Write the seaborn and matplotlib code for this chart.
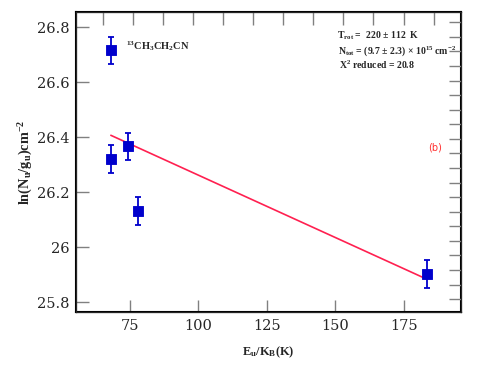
import numpy as np
import pandas as pd
import seaborn as sns
import matplotlib.pyplot as plt

# rotational diagram points
eu_kb = [68.1, 68.1, 74.3, 77.9, 183.4]
ln_nu = [26.716, 26.32, 26.367, 26.131, 25.902]
err = [0.05, 0.05, 0.05, 0.05, 0.05]

# fitted line end points
fit_x = [68.0, 183.4]
fit_y = [26.407, 25.884]

y_ticks = [25.8, 26.0, 26.2, 26.4, 26.6, 26.8]
y_labels = ['25.8', '26', '26.2', '26.4', '26.6', '26.8']
x_ticks = [75, 100, 125, 150, 175]
top_ticks = [65, 76, 87, 98, 109, 120, 131, 142, 153, 164, 175, 186]
right_ticks = [25.811, 25.864, 25.917, 25.97, 26.023, 26.076, 26.129, 26.182,
               26.235, 26.288, 26.341, 26.394, 26.447, 26.5, 26.553, 26.606,
               26.659, 26.712, 26.765, 26.818]

sns.set_style("white")
plt.rcParams['mathtext.fontset'] = 'custom'
plt.rcParams['mathtext.rm'] = 'Liberation Serif:bold'
plt.rcParams['mathtext.it'] = 'Liberation Serif:bold'
plt.rcParams['mathtext.bf'] = 'Liberation Serif:bold'

df = pd.DataFrame({'x': eu_kb, 'y': ln_nu})
fit = pd.DataFrame({'x': fit_x, 'y': fit_y})

fig = plt.figure(figsize=(4.91, 3.68), dpi=100)
ax = fig.add_axes([0.155, 0.152, 0.784, 0.815])

sns.lineplot(data=fit, x='x', y='y', color='#ff2050', linewidth=1.2, ax=ax)
ax.errorbar(eu_kb, ln_nu, yerr=err, fmt='none', ecolor='#0000cc',
            elinewidth=1.3, capsize=2, capthick=1.3)
sns.scatterplot(data=df, x='x', y='y', marker='s', s=62, color='#0000cc',
                edgecolor='#0000cc', ax=ax, zorder=5)

ax.set_xlim(55.3, 196)
ax.set_ylim(25.764, 26.855)
ax.set_xticks(x_ticks)
ax.set_yticks(y_ticks)
ax.set_yticklabels(y_labels)
ax.tick_params(direction='in', length=9, width=1, color='gray',
               labelsize=10.5, pad=5)
for lab in ax.get_xticklabels() + ax.get_yticklabels():
    lab.set_family('DejaVu Serif')
for s in ax.spines.values():
    s.set_linewidth(1.5)
    s.set_color('black')

ax2 = ax.twiny()
ax2.set_xlim(ax.get_xlim())
ax2.set_xticks(top_ticks)
ax2.set_xticklabels([])
ax2.tick_params(direction='in', length=9, width=1, color='gray')
ax3 = ax.twinx()
ax3.set_ylim(ax.get_ylim())
ax3.set_yticks(right_ticks)
ax3.set_yticklabels([])
ax3.tick_params(direction='in', length=9, width=1, color='gray')

bold = dict(family='Liberation Serif', fontweight='bold')
ax.set_xlabel(r'E$_\mathrm{u}$/K$_\mathrm{B}$(K)', fontsize=9, labelpad=8, **bold)
ax.set_ylabel(r'ln(N$_\mathrm{u}$/g$_\mathrm{u}$)cm$^\mathrm{-2}$', fontsize=10.3,
              labelpad=1, **bold)

ax.text(73.5, 26.733, r'$^\mathrm{13}$CH$_\mathrm{3}$CH$_\mathrm{2}$CN',
        fontsize=7.5, va='center', **bold)
ax.text(150.5, 26.77, r'T$_\mathrm{rot}$ =  220 ± 112  K',
        fontsize=7, va='center', **bold)
ax.text(151, 26.713, r'N$_\mathrm{tot}$ = (9.7 ± 2.3) × 10$^\mathrm{15}$ cm$^\mathrm{-2}$',
        fontsize=7, va='center', **bold)
ax.text(151.5, 26.665, r'X$^\mathrm{2}$ reduced = 20.8',
        fontsize=7, va='center', **bold)
ax.text(184, 26.363, '(b)', color='#ff3030', fontsize=7, va='center')

plt.savefig('out.png', dpi=100)
